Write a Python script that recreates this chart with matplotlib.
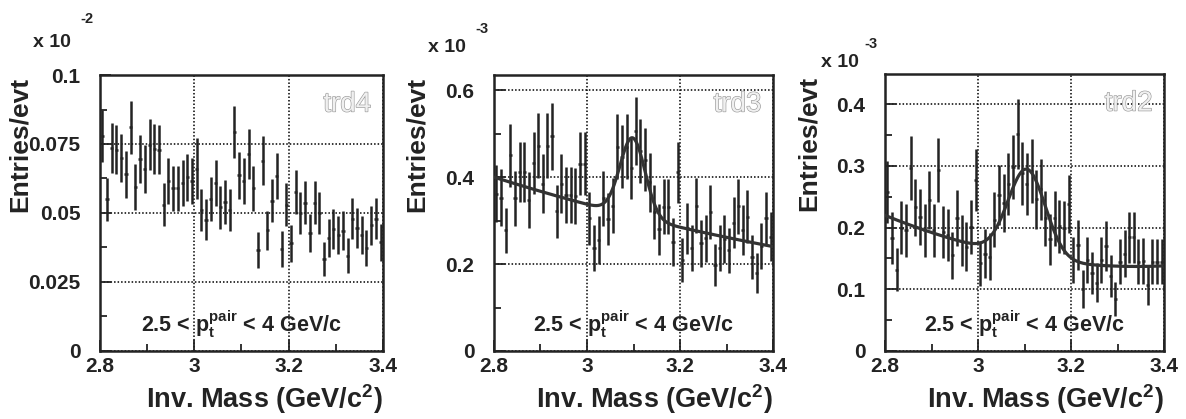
import numpy as np
import matplotlib.pyplot as plt
from matplotlib.ticker import FormatStrFormatter, MultipleLocator
import matplotlib.patheffects as pe

plt.rcParams['font.family'] = ['Liberation Sans', 'DejaVu Sans']
plt.rcParams['mathtext.fontset'] = 'custom'
plt.rcParams['mathtext.rm'] = 'Liberation Sans:bold'
plt.rcParams['mathtext.bf'] = 'Liberation Sans:bold'
plt.rcParams['mathtext.it'] = 'Liberation Sans:bold'

# binning: 60 bins de 10 MeV entre 2.8 e 3.4
BinEdges = np.linspace(2.8, 3.4, 61)
Centros = 0.5 * (BinEdges[:-1] + BinEdges[1:])

# trd4 (x 10^-2)
Trd4 = [0.078, 0.055, 0.0736, 0.073, 0.070, 0.064, 0.081, 0.0595, 0.0695, 0.066,
        0.0747, 0.0732, 0.073, 0.053, 0.0616, 0.059, 0.059, 0.061, 0.063, 0.0616,
        0.066, 0.051, 0.0476, 0.055, 0.061, 0.052, 0.054, 0.051, 0.0794, 0.0636,
        0.0616, 0.0713, 0.059, 0.0365, 0.069, 0.0438, 0.0545, 0.0634, 0.037, 0.053,
        0.039, 0.0576, 0.050, 0.0537, 0.0428, 0.0537, 0.050, 0.0333, 0.041, 0.0442,
        0.042, 0.0436, 0.0345, 0.048, 0.0446, 0.042, 0.0373, 0.0455, 0.048, 0.0394]
Trd4Err = [0.0095, 0.0078, 0.009, 0.009, 0.0088, 0.0085, 0.0097, 0.0083, 0.0088, 0.0086,
           0.0092, 0.009, 0.009, 0.0078, 0.0084, 0.0082, 0.0082, 0.0083, 0.0085, 0.0084,
           0.011, 0.0076, 0.0074, 0.0079, 0.0083, 0.0077, 0.0079, 0.0076, 0.0095, 0.0085,
           0.0084, 0.009, 0.0082, 0.0065, 0.0088, 0.0071, 0.0078, 0.0085, 0.0065, 0.0078,
           0.0067, 0.008, 0.0076, 0.0078, 0.007, 0.0078, 0.0076, 0.0062, 0.0069, 0.0071,
           0.007, 0.0071, 0.0063, 0.0074, 0.0072, 0.007, 0.0066, 0.0072, 0.0074, 0.0067]

# trd3 (x 10^-3)
Trd3 = [0.362, 0.353, 0.278, 0.45, 0.351, 0.412, 0.412, 0.347, 0.433, 0.472,
        0.385, 0.472, 0.494, 0.321, 0.385, 0.359, 0.359, 0.357, 0.431, 0.431,
        0.305, 0.236, 0.255, 0.351, 0.303, 0.334, 0.47, 0.447, 0.47, 0.42,
        0.506, 0.46, 0.44, 0.388, 0.32, 0.28, 0.332, 0.332, 0.251, 0.411,
        0.209, 0.282, 0.236, 0.334, 0.248, 0.259, 0.32, 0.198, 0.236, 0.257,
        0.232, 0.295, 0.333, 0.278, 0.309, 0.217, 0.179, 0.241, 0.305, 0.263]
Trd3Err = [0.066, 0.065, 0.052, 0.073, 0.064, 0.07, 0.07, 0.064, 0.072, 0.075,
           0.068, 0.075, 0.077, 0.062, 0.068, 0.065, 0.065, 0.065, 0.072, 0.072,
           0.06, 0.053, 0.055, 0.064, 0.06, 0.063, 0.075, 0.073, 0.075, 0.071,
           0.078, 0.074, 0.072, 0.068, 0.062, 0.058, 0.063, 0.063, 0.055, 0.07,
           0.05, 0.058, 0.053, 0.063, 0.054, 0.055, 0.062, 0.048, 0.053, 0.055,
           0.052, 0.059, 0.063, 0.057, 0.061, 0.051, 0.046, 0.053, 0.06, 0.056]

# trd2 (x 10^-3)
Trd2 = [0.258, 0.183, 0.132, 0.2, 0.196, 0.296, 0.233, 0.217, 0.196, 0.244,
        0.196, 0.294, 0.193, 0.188, 0.155, 0.216, 0.179, 0.169, 0.201, 0.277,
        0.142, 0.158, 0.153, 0.213, 0.253, 0.24, 0.271, 0.298, 0.352, 0.288,
        0.271, 0.292, 0.246, 0.262, 0.215, 0.181, 0.215, 0.202, 0.2, 0.239,
        0.147, 0.172, 0.1, 0.148, 0.126, 0.111, 0.148, 0.17, 0.121, 0.084,
        0.145, 0.158, 0.184, 0.184, 0.145, 0.146, 0.107, 0.145, 0.145, 0.145]
Trd2Err = [0.05, 0.042, 0.035, 0.043, 0.043, 0.052, 0.046, 0.045, 0.043, 0.047,
           0.043, 0.052, 0.042, 0.042, 0.038, 0.045, 0.041, 0.04, 0.043, 0.05,
           0.037, 0.039, 0.038, 0.044, 0.048, 0.047, 0.05, 0.052, 0.057, 0.051,
           0.05, 0.052, 0.048, 0.049, 0.044, 0.041, 0.044, 0.043, 0.043, 0.047,
           0.037, 0.04, 0.031, 0.037, 0.034, 0.032, 0.037, 0.04, 0.034, 0.028,
           0.037, 0.038, 0.041, 0.041, 0.037, 0.037, 0.032, 0.037, 0.037, 0.037]

# parametros do fit (gaussiana + fundo)
Fit3 = dict(amp=0.18, mu=3.098, sig=0.027, b0=0.40, slope=0.85)          # fundo exponencial
Fit2 = dict(amp=0.142, mu=3.105, sig=0.04, c0=0.138, c1=0.0333, c2=0.283)  # fundo quadratico


def Gauss(x, amp, mu, sig):
    return amp * np.exp(-0.5 * ((x - mu) / sig) ** 2)


def FitTrd3(x):
    p = Fit3
    return p['b0'] * np.exp(-p['slope'] * (x - 2.8)) + Gauss(x, p['amp'], p['mu'], p['sig'])


def FitTrd2(x):
    p = Fit2
    d = x - 3.4
    return p['c0'] + p['c1'] * d + p['c2'] * d ** 2 + Gauss(x, p['amp'], p['mu'], p['sig'])


Escuro = '#232323'
fig = plt.figure(figsize=(11.86, 4.19), dpi=100)

paineis = [
    # nome, dados, erros, pos, ylim, ystep, expoente, fit, xfit_max
    ('trd4', Trd4, Trd4Err, [0.0843, 0.1623, 0.2386, 0.6587], 0.1, 0.025, '-2', None, None),
    ('trd3', Trd3, Trd3Err, [0.4165, 0.1623, 0.2353, 0.6587], 0.635, 0.2, '-3', FitTrd3, 3.4),
    ('trd2', Trd2, Trd2Err, [0.7462, 0.1623, 0.2353, 0.6611], 0.449, 0.1, '-3', FitTrd2, 3.395),
]
PosExp = [(33, 47, 80, 23), (428, 52, 475, 33), (821, 67, 864, 48)]
for (nome, y, yerr, pos, ymax, ystep, expo, fit, xfmax), (ex, ey, sx, sy) in zip(paineis, PosExp):
    ax = fig.add_axes(pos)
    ax.errorbar(Centros, y, yerr=yerr, xerr=0.0035, fmt='none', ecolor=Escuro,
                elinewidth=1.8, capsize=0, zorder=3)
    if fit is not None:
        xs = np.linspace(2.8, xfmax, 500)
        ax.plot(xs, fit(xs), color='#333333', lw=2.3, zorder=4)

    ax.set_xlim(2.8, 3.4)
    ax.set_ylim(0, ymax)
    ax.xaxis.set_major_locator(MultipleLocator(0.2))
    ax.xaxis.set_minor_locator(MultipleLocator(0.1))
    ax.yaxis.set_major_locator(MultipleLocator(ystep))
    ax.yaxis.set_minor_locator(MultipleLocator(ystep / 2))
    ax.xaxis.set_major_formatter(FormatStrFormatter('%g'))
    ax.yaxis.set_major_formatter(FormatStrFormatter('%g'))
    ax.grid(True, which='major', color='black', linestyle=(0, (1, 1.3)), lw=1.1)
    ax.tick_params(which='both', direction='in', top=False, right=False, colors=Escuro,
                   labelsize=15)
    ax.tick_params(which='major', length=8, width=1.3)
    ax.tick_params(which='minor', length=5, width=1.3)
    ax.tick_params(axis='y', pad=14)
    ax.tick_params(axis='x', pad=4)
    for lab in ax.get_xticklabels() + ax.get_yticklabels():
        lab.set_fontweight('bold')
    for s in ax.spines.values():
        s.set_linewidth(1.8)
        s.set_color(Escuro)

    ax.text(-0.275 if nome != 'trd4' else -0.283, 0.993, 'Entries/evt', rotation=90,
            transform=ax.transAxes, ha='center', va='top', fontsize=19,
            fontweight='bold', color=Escuro)
    ax.text(1.0, -0.207, r'Inv. Mass (GeV/c$^{\mathbf{2}}$)', transform=ax.transAxes,
            ha='right', va='baseline', fontsize=19.5, fontweight='bold', color=Escuro)
    ax.text(0.5, 0.069, r'2.5 < $\mathbf{p_t^{pair}}$ < 4 GeV/c', transform=ax.transAxes,
            ha='center', va='baseline', fontsize=15.5, fontweight='bold', color=Escuro)
    ax.text(0.958, 0.893, nome, transform=ax.transAxes, ha='right', va='center',
            fontsize=20, color='#f0f0f0',
            path_effects=[pe.withStroke(linewidth=0.9, foreground='#999999')])

    # "x 10^-n" no canto
    fig.text(ex / 1186, 1 - ey / 419, 'x 10', ha='left', va='baseline',
             fontsize=14, fontweight='bold', color=Escuro)
    fig.text(sx / 1186, 1 - sy / 419, expo, ha='left', va='baseline',
             fontsize=10.5, fontweight='bold', color=Escuro)

fig.savefig('out.png', dpi=100)
